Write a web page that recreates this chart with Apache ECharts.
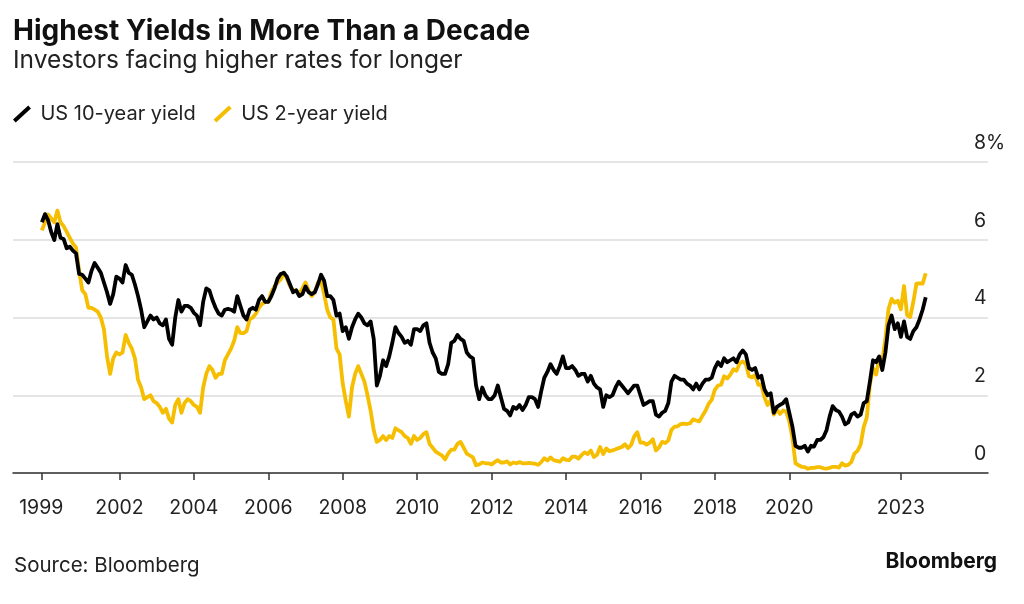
<!DOCTYPE html>
<html>
<head>
<meta charset="utf-8">
<script src="https://cdn.jsdelivr.net/npm/echarts@6/dist/echarts.min.js"></script>
<style>
html,body{margin:0;padding:0;background:#fff;}
#chart{width:1024px;height:604px;}
</style>
</head>
<body>
<div id="chart"></div>
<script>
// Monthly observations, Dec 1999 .. Sep 2023
const startYear = 1999, startMonth = 12;

const tenYear = [
  6.45,
  6.66, 6.50, 6.20, 5.99, 6.40, 6.05, 6.02, 5.78, 5.82, 5.72, 5.65, 5.12,
  5.10, 5.00, 4.90, 5.20, 5.40, 5.28, 5.15, 4.90, 4.65, 4.35, 4.60, 5.05,
  5.00, 4.90, 5.35, 5.15, 5.10, 4.85, 4.55, 4.20, 3.75, 3.90, 4.05, 3.95,
  4.00, 3.85, 3.80, 3.95, 3.45, 3.30, 4.00, 4.45, 4.15, 4.30, 4.30, 4.25,
  4.12, 4.05, 3.80, 4.40, 4.75, 4.70, 4.45, 4.25, 4.10, 4.05, 4.20, 4.22,
  4.20, 4.15, 4.55, 4.30, 4.05, 3.95, 4.20, 4.25, 4.20, 4.45, 4.55, 4.40,
  4.40, 4.55, 4.75, 5.00, 5.12, 5.15, 5.05, 4.85, 4.65, 4.70, 4.55, 4.60,
  4.80, 4.65, 4.60, 4.65, 4.85, 5.10, 4.95, 4.55, 4.55, 4.45, 4.05, 4.10,
  3.65, 3.75, 3.45, 3.75, 3.95, 4.10, 4.00, 3.85, 3.80, 3.90, 3.45, 2.25,
  2.50, 2.90, 2.75, 3.00, 3.35, 3.75, 3.60, 3.50, 3.35, 3.40, 3.30, 3.70,
  3.70, 3.65, 3.80, 3.85, 3.35, 3.10, 2.95, 2.60, 2.55, 2.55, 2.80, 3.35,
  3.40, 3.55, 3.45, 3.40, 3.10, 3.00, 2.95, 2.25, 1.90, 2.20, 2.00, 1.90,
  1.90, 2.00, 2.25, 1.95, 1.65, 1.60, 1.48, 1.70, 1.65, 1.75, 1.62, 1.75,
  1.95, 1.95, 1.90, 1.70, 2.10, 2.45, 2.60, 2.80, 2.65, 2.55, 2.75, 3.00,
  2.70, 2.70, 2.75, 2.65, 2.50, 2.55, 2.55, 2.35, 2.50, 2.30, 2.20, 2.15,
  1.70, 2.00, 1.95, 2.00, 2.20, 2.35, 2.25, 2.15, 2.05, 2.15, 2.25, 2.25,
  2.00, 1.75, 1.80, 1.85, 1.85, 1.50, 1.45, 1.55, 1.60, 1.80, 2.35, 2.50,
  2.45, 2.40, 2.40, 2.30, 2.25, 2.15, 2.30, 2.15, 2.30, 2.40, 2.40, 2.45,
  2.70, 2.85, 2.75, 2.95, 2.85, 2.90, 2.95, 2.85, 3.05, 3.15, 3.05, 2.70,
  2.65, 2.70, 2.45, 2.50, 2.15, 2.00, 2.05, 1.55, 1.70, 1.75, 1.80, 1.90,
  1.55, 1.20, 0.70, 0.65, 0.65, 0.70, 0.55, 0.70, 0.68, 0.85, 0.85, 0.92,
  1.10, 1.45, 1.72, 1.62, 1.58, 1.45, 1.25, 1.30, 1.50, 1.55, 1.45, 1.50,
  1.80, 1.85, 2.35, 2.90, 2.85, 3.00, 2.65, 3.10, 3.80, 4.05, 3.70, 3.85,
  3.50, 3.90, 3.50, 3.45, 3.65, 3.75, 3.95, 4.20, 4.52
];

const twoYear = [
  6.24,
  6.45, 6.65, 6.55, 6.45, 6.75, 6.45, 6.35, 6.20, 6.05, 5.90, 5.80, 5.20,
  4.70, 4.60, 4.25, 4.25, 4.20, 4.15, 4.00, 3.70, 3.00, 2.55, 2.95, 3.10,
  3.05, 3.10, 3.55, 3.35, 3.20, 2.95, 2.40, 2.20, 1.90, 1.95, 2.00, 1.85,
  1.80, 1.70, 1.55, 1.65, 1.40, 1.30, 1.75, 1.90, 1.55, 1.80, 1.90, 1.85,
  1.75, 1.70, 1.55, 2.20, 2.55, 2.75, 2.65, 2.45, 2.55, 2.55, 2.90, 3.05,
  3.20, 3.40, 3.75, 3.60, 3.60, 3.65, 3.95, 4.00, 4.10, 4.25, 4.35, 4.40,
  4.40, 4.65, 4.80, 4.90, 4.98, 5.15, 5.00, 4.80, 4.70, 4.70, 4.60, 4.75,
  4.90, 4.70, 4.55, 4.65, 4.90, 4.95, 4.60, 4.20, 4.00, 3.95, 3.20, 3.05,
  2.30, 1.85, 1.45, 2.20, 2.55, 2.75, 2.55, 2.35, 2.00, 1.60, 1.10, 0.80,
  0.85, 0.95, 0.85, 0.95, 0.90, 1.15, 1.10, 1.05, 0.95, 0.90, 0.75, 0.95,
  0.85, 0.90, 1.00, 1.05, 0.75, 0.65, 0.55, 0.50, 0.45, 0.35, 0.50, 0.60,
  0.60, 0.75, 0.80, 0.65, 0.50, 0.45, 0.40, 0.20, 0.22, 0.27, 0.25, 0.25,
  0.22, 0.28, 0.33, 0.27, 0.27, 0.30, 0.22, 0.27, 0.25, 0.28, 0.25, 0.25,
  0.26, 0.25, 0.24, 0.21, 0.28, 0.38, 0.32, 0.40, 0.33, 0.31, 0.29, 0.38,
  0.34, 0.33, 0.42, 0.42, 0.37, 0.46, 0.53, 0.49, 0.58, 0.41, 0.47, 0.67,
  0.49, 0.63, 0.56, 0.58, 0.61, 0.64, 0.67, 0.74, 0.64, 0.72, 0.94, 1.05,
  0.78, 0.78, 0.73, 0.78, 0.87, 0.58, 0.66, 0.80, 0.77, 0.84, 1.11, 1.19,
  1.20, 1.26, 1.27, 1.26, 1.28, 1.38, 1.35, 1.33, 1.47, 1.60, 1.78, 1.88,
  2.14, 2.25, 2.27, 2.49, 2.43, 2.53, 2.67, 2.63, 2.82, 2.87, 2.80, 2.49,
  2.46, 2.52, 2.27, 2.27, 1.95, 1.75, 1.87, 1.50, 1.63, 1.52, 1.61, 1.58,
  1.33, 0.91, 0.25, 0.20, 0.16, 0.15, 0.11, 0.13, 0.13, 0.15, 0.15, 0.12,
  0.11, 0.13, 0.16, 0.16, 0.14, 0.25, 0.19, 0.21, 0.28, 0.50, 0.57, 0.73,
  1.18, 1.43, 2.28, 2.70, 2.53, 2.95, 2.89, 3.45, 4.22, 4.48, 4.38, 4.43,
  4.21, 4.81, 4.06, 4.01, 4.40, 4.87, 4.88, 4.87, 5.14
];

const xTickPositions = [1999.9, 2002, 2004, 2006, 2008, 2010, 2012, 2014, 2016, 2018, 2020, 2023];
const xTickLabels = ['1999', '2002', '2004', '2006', '2008', '2010', '2012', '2014', '2016', '2018', '2020', '2023'];
const yTicks = [0, 2, 4, 6, 8];
const yTickLabels = ['0', '2', '4', '6', '8%'];

const seriesNames = ['US 10-year yield', 'US 2-year yield'];
const seriesColors = ['#000000', '#f6be00'];

// decimal-year position of each monthly observation
const dates = tenYear.map((_, i) => {
  const mIdx = (startMonth - 1) + i;
  return startYear + Math.floor(mIdx / 12) + (mIdx % 12) / 12;
});

const chart = echarts.init(document.getElementById('chart'), null, {renderer: 'canvas'});
const baseFont = 'Inter, Liberation Sans, Arial, sans-serif';
const numFont = 'Inter, Liberation Sans, Arial, sans-serif';

const legendIcon = 'path://M1.85,12.75L14.85,0.75L17.15,3.25L4.15,15.25Z';

chart.setOption({
  animation: false,
  backgroundColor: '#ffffff',
  title: [
    {
      text: 'Highest Yields in More Than a Decade',
      left: 13, top: 18, padding: 0,
      textStyle: {fontFamily: baseFont, fontSize: 28, fontWeight: 'bold', color: '#111'}
    },
    {
      text: 'Investors facing higher rates for longer',
      left: 13, top: 48, padding: 0,
      textStyle: {fontFamily: baseFont, fontSize: 24.5, fontWeight: 'normal', color: '#222'}
    },
    {
      text: 'Source: Bloomberg',
      left: 14, top: 555, padding: 0,
      textStyle: {fontFamily: baseFont, fontSize: 20.5, fontWeight: 'normal', color: '#222'}
    },
    {
      text: 'Bloomberg',
      right: 27, top: 551, padding: 0,
      textStyle: {fontFamily: baseFont, fontSize: 21, fontWeight: 'bold', color: '#111'}
    }
  ],
  legend: {
    left: 13, top: 104, padding: 0,
    itemWidth: 19, itemHeight: 17, itemGap: 18,
    icon: legendIcon,
    data: seriesNames,
    textStyle: {fontFamily: baseFont, fontSize: 20, color: '#222', padding: [0, 0, 0, 4]}
  },
  grid: {left: 13, right: 36, top: 162, bottom: 131, containLabel: false},
  xAxis: {
    type: 'value',
    min: 1999.14, max: 2025.34,
    axisLine: {show: true, lineStyle: {color: '#333', width: 1.5}},
    axisTick: {show: true, length: 7, lineStyle: {color: '#333', width: 1.5}, customValues: xTickPositions},
    axisLabel: {
      customValues: xTickPositions,
      margin: 25,
      fontFamily: numFont, fontSize: 19.5, color: '#222',
      formatter: v => {
        const i = xTickPositions.findIndex(p => Math.abs(p - v) < 0.01);
        return i >= 0 ? xTickLabels[i] : '';
      }
    },
    splitLine: {show: false}
  },
  yAxis: {
    type: 'value',
    position: 'right',
    min: 0, max: 8, interval: 2,
    axisLine: {show: false},
    axisTick: {show: false},
    splitLine: {show: true, lineStyle: {color: '#dcdcdc', width: 1.5}},
    axisLabel: {
      inside: true, margin: 14, align: 'left', verticalAlign: 'bottom',
      padding: [0, 0, 9, 0],
      fontFamily: numFont, fontSize: 19.5, color: '#222',
      formatter: v => {
        const i = yTicks.indexOf(v);
        return i >= 0 ? yTickLabels[i] : '';
      }
    }
  },
  series: [
    {
      name: seriesNames[1], type: 'line', showSymbol: false,
      color: seriesColors[1],
      lineStyle: {color: seriesColors[1], width: 3.8, join: 'round'},
      data: twoYear.map((v, i) => [dates[i], v]),
      z: 2
    },
    {
      name: seriesNames[0], type: 'line', showSymbol: false,
      color: seriesColors[0],
      lineStyle: {color: seriesColors[0], width: 3.8, join: 'round'},
      data: tenYear.map((v, i) => [dates[i], v]),
      z: 3
    }
  ]
});
</script>
</body>
</html>
